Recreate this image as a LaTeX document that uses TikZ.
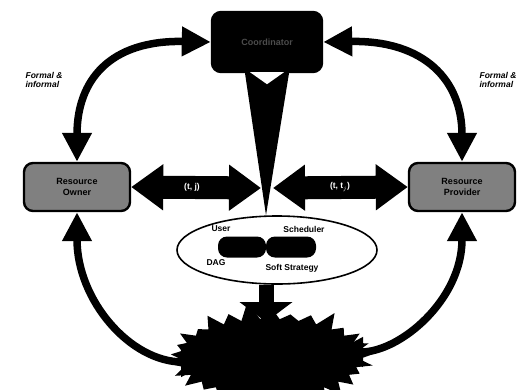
\documentclass[tikz,border=0pt]{standalone}
\usepackage{fontspec}
\setsansfont{Liberation Sans}
\usetikzlibrary{positioning,arrows.meta,shapes.geometric,shapes.symbols,calc}

\begin{document}
\begin{tikzpicture}[x=1pt,y=-1pt,
  box/.style={draw=black,line width=2.4pt,fill=black!50,rounded corners=9pt,minimum width=106pt,minimum height=48pt,align=center,font=\sffamily\bfseries\small},
  pill/.style={fill=black,rounded corners=9pt,minimum height=21pt,inner sep=0pt},
  lbl/.style={font=\sffamily\bfseries\fontsize{8.5}{9}\selectfont,inner sep=1pt},
  bigarrow/.style={line width=23pt,{Triangle[length=32pt,width=44pt]}-{Triangle[length=32pt,width=44pt]}},
  curvearrow/.style={line width=7.5pt,{Triangle[length=29pt,width=28pt]}-{Triangle[length=29pt,width=28pt]}}]
\useasboundingbox (0,0) rectangle (521,389);
\clip (0,0) rectangle (521,389);
\node[box,fill=black,minimum width=110pt,minimum height=60pt,text=black!70] (coord) at (267,42) {Coordinator};
\node[box] (owner) at (77,187) {Resource\\Owner};
\node[box] (provider) at (462,187) {Resource\\Provider};
\node[ellipse,draw,line width=1.6pt,minimum width=200pt,minimum height=68pt] (sched) at (277,250) {};
\node[pill,minimum width=48pt] (userpill) at (242,247) {};
\node[pill,minimum width=50pt] (schedpill) at (291,247) {};
\node[lbl] (user) at (221,229) {User};
\node[lbl] (scheduler) at (304,229) {Scheduler};
\node[lbl] (dag) at (216,263) {DAG};
\node[lbl] (strategy) at (292,268) {Soft Strategy};
\node[starburst,fill=black,minimum width=215pt,minimum height=112pt,starburst points=29,starburst point height=18pt,random starburst=11] (burst) at (270,357) {};
\coordinate (midl) at (261,188);
\coordinate (midr) at (273,188);
\coordinate (hit) at (266,322);
\coordinate (bl) at (210,362);
\coordinate (br) at (334,352);
\draw[curvearrow] (coord.west) .. controls (110,40) and (77,80) .. (owner.north);
\draw[curvearrow] (coord.east) .. controls (424,40) and (462,80) .. (provider.north);
\draw[curvearrow] (owner.south) .. controls (77,300) and (130,362) .. (bl);
\draw[curvearrow] (provider.south) .. controls (462,300) and (400,352) .. (br);
\draw[bigarrow] (owner.east) -- (midl);
\draw[bigarrow] (midr) -- (provider.west);
\fill ($(coord.south)+(-22,0)$) -- ($(coord.south)+(22,0)$) -- (sched.north -| hit) -- cycle;
\fill[white] ($(coord.south)+(-17,-1)$) -- ($(coord.south)+(17,-1)$) -- ($(coord.south)+(0,11)$) -- cycle;
\draw[line width=15pt,-{Triangle[length=20pt,width=52pt]}] (sched.south -| hit) -- (hit);
\node[lbl,text=white] (pairl) at (192,187) {(t, j)};
\node[lbl,text=white] (pairr) at (340,187) {(t, t$_j$)};
\node[lbl,font=\sffamily\bfseries\itshape\fontsize{8.5}{9}\selectfont,align=left] (forml) at (44,80) {Formal \&\\informal};
\node[lbl,font=\sffamily\bfseries\itshape\fontsize{8.5}{9}\selectfont,align=left] (formr) at (498,80) {Formal \&\\informal};
\end{tikzpicture}
\end{document}
